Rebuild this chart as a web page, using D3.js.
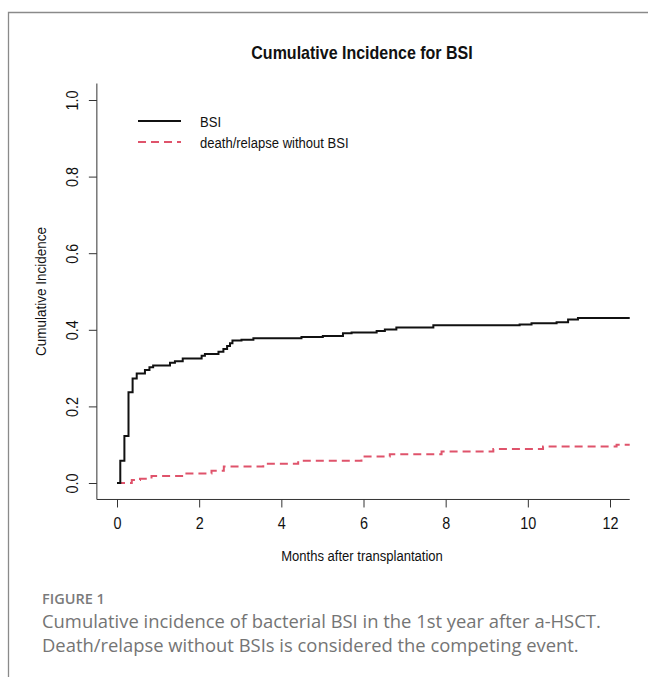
<!DOCTYPE html>
<html>
<head>
<meta charset="utf-8">
<script src="https://cdn.jsdelivr.net/npm/d3@7"></script>
<style>
  html, body { margin: 0; padding: 0; background: #fff; }
  svg { display: block; }
</style>
</head>
<body>
<svg id="area" width="648" height="677"></svg>
<script>
// step points (months, cumulative incidence)
const bsiTime = [0, 0.08, 0.18, 0.28, 0.38, 0.48, 0.68, 0.79, 0.88, 1.29, 1.41, 1.6, 2.06, 2.14, 2.47, 2.59, 2.68, 2.75, 2.81, 3.03, 3.32, 4.49, 5.01, 5.5, 5.71, 6.32, 6.52, 6.8, 7.7, 9.8, 10.09, 10.7, 10.98, 11.22, 12.48];
const bsiValue = [0, 0.058, 0.123, 0.237, 0.273, 0.286, 0.295, 0.302, 0.307, 0.314, 0.318, 0.325, 0.332, 0.337, 0.343, 0.35, 0.358, 0.365, 0.372, 0.374, 0.378, 0.381, 0.384, 0.391, 0.393, 0.397, 0.401, 0.406, 0.412, 0.414, 0.417, 0.42, 0.427, 0.431, 0.431];
const drTime = [0, 0.36, 0.56, 0.84, 1.61, 2.3, 2.6, 3.56, 4.41, 5.95, 6.64, 7.9, 9.16, 10.37, 12.16, 12.48];
const drValue = [0, 0.008, 0.011, 0.018, 0.025, 0.032, 0.043, 0.05, 0.058, 0.069, 0.075, 0.082, 0.089, 0.095, 0.1, 0.1];
const xTicks = [0, 2, 4, 6, 8, 10, 12];
const yTicks = [0, 0.2, 0.4, 0.6, 0.8, 1.0];
const seriesNames = ['BSI', 'death/relapse without BSI'];

const svg = d3.select('#area');
const red = '#DF536B';
const ink = '#111';
const font = '"Liberation Sans", Arial, sans-serif';
const squeeze = 0.87; // the R text in the picture is a bit narrow

// figure frame (clipped at right and bottom)
svg.append('path')
  .attr('d', 'M8.5,677V12.5H648')
  .attr('fill', 'none')
  .attr('stroke', '#8a8a8a')
  .attr('stroke-width', 1.3);

const x = d3.scaleLinear().domain([0, 12]).range([117, 610]);
const y = d3.scaleLinear().domain([0, 1]).range([483, 100]);
const xLo = x(-0.49);
const xHi = x(12.48);
const yLo = y(-0.043);
const yHi = y(1.043);

const label = (px, py, txt, size, opts = {}) => svg.append('text')
  .attr('transform', `translate(${px},${py})${opts.rotate ? ' rotate(-90)' : ''} scale(${opts.k || squeeze},1)`)
  .attr('text-anchor', opts.anchor || 'middle')
  .style('font', `${opts.bold ? 'bold ' : ''}${size}px ${font}`)
  .attr('fill', ink)
  .text(txt);

label(362, 59, 'Cumulative Incidence for BSI', 18, { bold: true, k: 0.89 });

// L-shaped box
svg.append('path')
  .attr('d', `M${xLo},${yHi}V${yLo}H${xHi}`)
  .attr('fill', 'none')
  .attr('stroke', '#333')
  .attr('stroke-width', 1);

const xAxis = svg.append('g')
  .attr('transform', `translate(0,${yLo})`)
  .call(d3.axisBottom(x).tickValues(xTicks).tickSize(8).tickFormat(d3.format('d')));
xAxis.select('.domain').remove();
xAxis.selectAll('.tick line').attr('stroke', '#333');
xAxis.selectAll('.tick text')
  .style('font', `16px ${font}`).attr('fill', ink)
  .attr('y', 0).attr('dy', 0)
  .attr('transform', 'translate(0,29.5) scale(0.9,1)');

const yAxis = svg.append('g')
  .attr('transform', `translate(${xLo},0)`)
  .call(d3.axisLeft(y).tickValues(yTicks).tickSize(8).tickFormat(d3.format('.1f')));
yAxis.select('.domain').remove();
yAxis.selectAll('.tick line').attr('stroke', '#333');
yAxis.selectAll('.tick text')
  .style('font', `16px ${font}`).attr('fill', ink)
  .attr('text-anchor', 'middle')
  .attr('x', 0).attr('y', 0).attr('dy', 0)
  .attr('transform', 'translate(-19,0) rotate(-90) scale(0.9,1)');

label(362, 561, 'Months after transplantation', 15);
label(46, y(0.5), 'Cumulative Incidence', 15.5, { rotate: true });

const line = d3.line()
  .x((d) => x(d[0]))
  .y((d) => y(d[1]))
  .curve(d3.curveStepAfter);

svg.append('path')
  .datum(d3.zip(drTime, drValue))
  .attr('d', line)
  .attr('fill', 'none')
  .attr('stroke', red)
  .attr('stroke-width', 2)
  .attr('stroke-dasharray', '8,5');

svg.append('path')
  .datum(d3.zip(bsiTime, bsiValue))
  .attr('d', line)
  .attr('fill', 'none')
  .attr('stroke', ink)
  .attr('stroke-width', 2);

// legend
const legendRows = [
  { name: seriesNames[0], color: ink, dash: null },
  { name: seriesNames[1], color: red, dash: '8,5' },
];
legendRows.forEach((r, i) => {
  const ly = 121 + i * 21;
  svg.append('line')
    .attr('x1', 138).attr('x2', 181)
    .attr('y1', ly).attr('y2', ly)
    .attr('stroke', r.color)
    .attr('stroke-width', 2)
    .attr('stroke-dasharray', r.dash);
  label(200, ly + 5.5, r.name, 15, { anchor: 'start' });
});

// caption
const capFont = '"Open Sans", "Noto Sans", sans-serif';
svg.append('text')
  .attr('x', 42).attr('y', 604)
  .style('font', `600 14.5px ${capFont}`)
  .attr('fill', '#7a7a7a')
  .text('FIGURE 1');
['Cumulative incidence of bacterial BSI in the 1st year after a-HSCT.',
  'Death/relapse without BSIs is considered the competing event.'].forEach((t, i) => {
  svg.append('text')
    .attr('x', 42).attr('y', 628 + i * 24)
    .style('font', `18.4px ${capFont}`)
    .attr('fill', '#747474')
    .text(t);
});
</script>
</body>
</html>
